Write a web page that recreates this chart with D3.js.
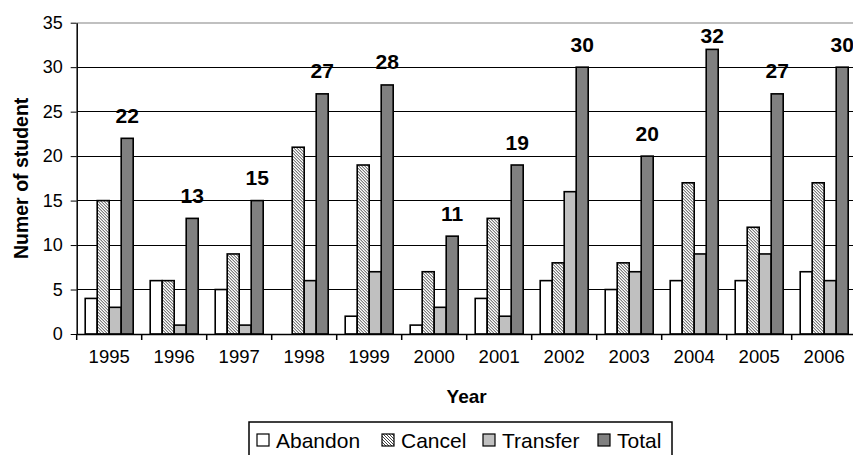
<!DOCTYPE html>
<html>
<head>
<meta charset="utf-8">
<script src="https://cdn.jsdelivr.net/npm/d3@7"></script>
<style>
  html, body { margin: 0; padding: 0; background: #fff; }
  svg { display: block; font-family: "Liberation Sans", Arial, sans-serif; }
</style>
</head>
<body>
<svg id="chart" width="853" height="455"></svg>
<script>
const years = ["1995","1996","1997","1998","1999","2000","2001","2002","2003","2004","2005","2006"];
const seriesNames = ["Abandon","Cancel","Transfer","Total"];
const abandon  = [4, 6, 5, 0, 2, 1, 4, 6, 5, 6, 6, 7];
const cancel   = [15, 6, 9, 21, 19, 7, 13, 8, 8, 17, 12, 17];
const transfer = [3, 1, 1, 6, 7, 3, 2, 16, 7, 9, 9, 6];
const total    = [22, 13, 15, 27, 28, 11, 19, 30, 20, 32, 27, 30];
const yTicks   = [0, 5, 10, 15, 20, 25, 30, 35];

(function () {
const seriesValues = [abandon, cancel, transfer, total];
const fills = ["#ffffff", "url(#dots)", "#c0c0c0", "#808080"];

const svg = d3.select("#chart");
const defs = svg.append("defs");
const pat = defs.append("pattern").attr("id", "dots")
  .attr("patternUnits", "userSpaceOnUse").attr("width", 3).attr("height", 3);
pat.append("rect").attr("width", 3).attr("height", 3).attr("fill", "#fff");
[[0,0],[1,1],[2,2]].forEach(([px,py]) => {
  pat.append("rect").attr("x", px).attr("y", py).attr("width", 1).attr("height", 1).attr("fill", "#444");
});

const pL = 76.7, pR = 856.7, pT = 22.7, pB = 334;
const x = d3.scaleBand().domain(years).range([pL, pR]).padding(0);
const xs = d3.scaleBand().domain(seriesNames).range([8.5, 56.5]).padding(0);
const y = d3.scaleLinear().domain([0, 35]).range([pB, pT]);

// gridlines
svg.append("g").selectAll("line").data(yTicks.filter(t => t > 0)).join("line")
  .attr("x1", pL).attr("x2", 853)
  .attr("y1", d => y(d)).attr("y2", d => y(d))
  .attr("stroke", d => d === 35 ? "#c0c0c0" : "#000")
  .attr("stroke-width", d => d === 35 ? 2 : 1)
  .attr("shape-rendering", "crispEdges");

// bars
const groups = svg.append("g").selectAll("g").data(years).join("g")
  .attr("transform", d => `translate(${x(d)},0)`);
groups.selectAll("rect").data((d, i) => seriesNames.map((s, j) => ({s, j, v: seriesValues[j][i]})))
  .join("rect")
  .attr("x", d => xs(d.s))
  .attr("width", xs.bandwidth())
  .attr("y", d => y(d.v))
  .attr("height", d => y(0) - y(d.v))
  .attr("fill", d => fills[d.j])
  .attr("stroke", "#000")
  .attr("stroke-width", 1.6)
  .attr("display", d => d.v === 0 ? "none" : null);

// total labels (kept inside the chart area near the top)
svg.append("g").selectAll("text").data(years).join("text")
  .attr("x", d => x(d) + xs("Total") + xs.bandwidth() / 2)
  .attr("y", (d, i) => Math.max(y(total[i]) - 15.5, 43.3))
  .attr("text-anchor", "middle")
  .attr("font-size", 21).attr("font-weight", "bold")
  .text((d, i) => total[i]);

// y axis
const yAxis = d3.axisLeft(y).tickValues(yTicks).tickSize(6).tickPadding(8).tickSizeOuter(0);
const ya = svg.append("g").attr("transform", `translate(${pL},0)`).call(yAxis);
ya.select(".domain").attr("stroke", "#000").attr("stroke-width", 1.5);
ya.selectAll("text").attr("font-size", 18).attr("font-family", "Liberation Sans, Arial, sans-serif").attr("fill", "#000");

// x axis
const xAxis = d3.axisBottom(x).tickSize(0).tickPadding(16).tickSizeOuter(0);
const xa = svg.append("g").attr("transform", `translate(0,${pB})`).call(xAxis);
xa.select(".domain").attr("stroke", "#000").attr("stroke-width", 1.5);
xa.selectAll("text").attr("font-size", 18.5).attr("font-family", "Liberation Sans, Arial, sans-serif").attr("fill", "#000");
xa.append("g").selectAll("line").data(years).join("line")
  .attr("x1", d => x(d)).attr("x2", d => x(d))
  .attr("y1", 0).attr("y2", 6).attr("stroke", "#000").attr("stroke-width", 1.5);

// axis titles
svg.append("text").attr("x", (pL + pR) / 2).attr("y", 403)
  .attr("text-anchor", "middle").attr("font-size", 19).attr("font-weight", "bold").text("Year");
svg.append("text").attr("transform", `translate(28,${(pT + pB) / 2}) rotate(-90)`)
  .attr("text-anchor", "middle").attr("font-size", 19.5).attr("font-weight", "bold").text("Numer of student");

// legend
const lg = svg.append("g");
lg.append("rect").attr("x", 249).attr("y", 422).attr("width", 423).attr("height", 40)
  .attr("fill", "#fff").attr("stroke", "#000").attr("stroke-width", 1.5);
const legX = [257, 382, 483, 598];
seriesNames.forEach((s, j) => {
  lg.append("rect").attr("x", legX[j]).attr("y", 434).attr("width", 12).attr("height", 12)
    .attr("fill", fills[j]).attr("stroke", "#000").attr("stroke-width", 1.2);
  lg.append("text").attr("x", legX[j] + 19).attr("y", 448).attr("font-size", 21).text(s);
});
})();
</script>
</body>
</html>
